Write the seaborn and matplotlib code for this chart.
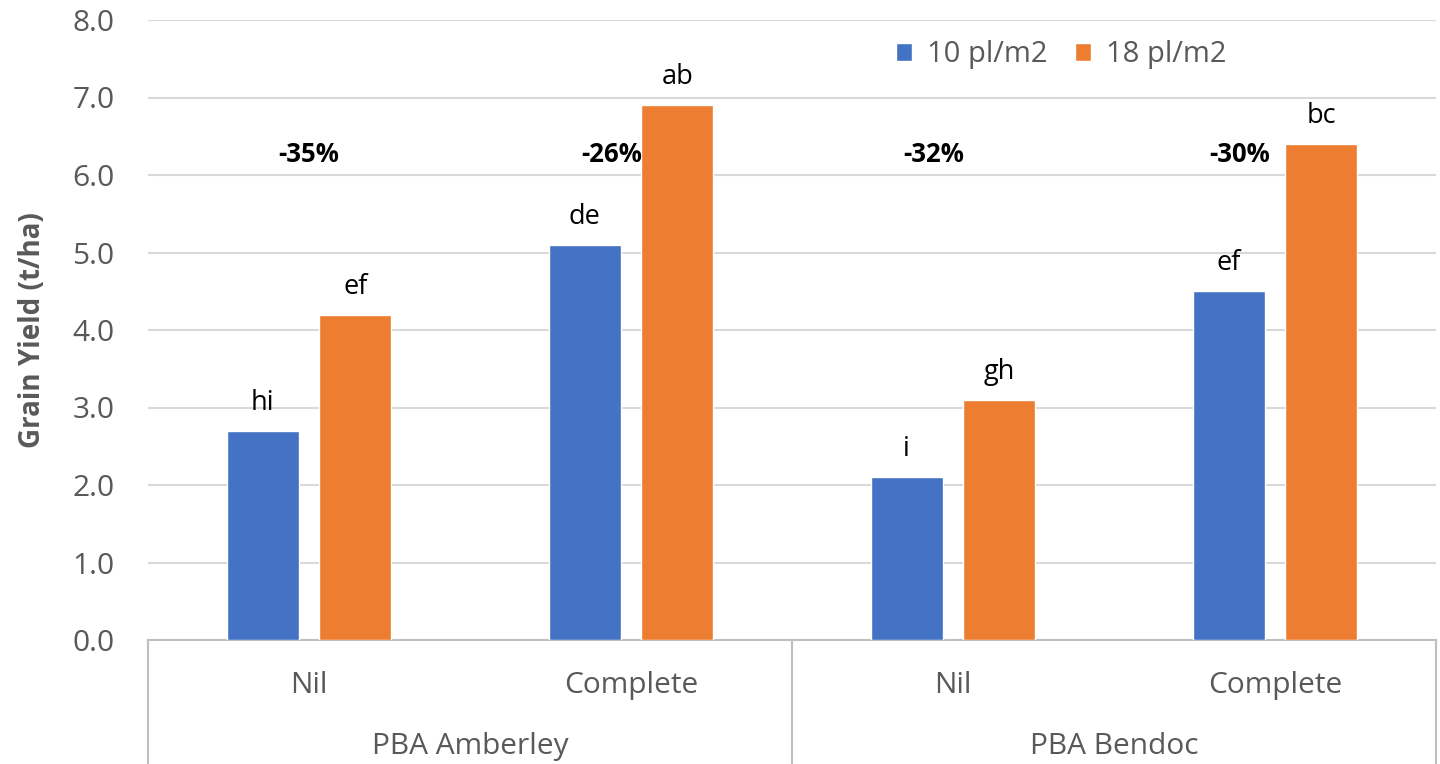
import matplotlib.pyplot as plt
import numpy as np
import pandas as pd
import seaborn as sns

# ---- data ----
cultivars = ["PBA Amberley", "PBA Amberley", "PBA Bendoc", "PBA Bendoc"]
treatments = ["Nil", "Complete", "Nil", "Complete"]
densities = ["10 pl/m2", "18 pl/m2"]
yield_10 = [2.7, 5.1, 2.1, 4.5]
yield_18 = [4.2, 6.9, 3.1, 6.4]
letters_10 = ["hi", "de", "i", "ef"]
letters_18 = ["ef", "ab", "gh", "bc"]
pct_labels = ["-35%", "-26%", "-32%", "-30%"]
pct_shift = [0.0, -0.06, -0.06, -0.11]   # label nudges as in the original
pct_y = 6.26
yticks = np.arange(0, 8.01, 1.0)

groups = [f"{c}|{t}" for c, t in zip(cultivars, treatments)]
df = pd.DataFrame({
    "group": groups * 2,
    "density": [densities[0]] * 4 + [densities[1]] * 4,
    "yield": yield_10 + yield_18,
})

BLUE = "#4472C4"
ORANGE = "#ED7D31"
GRID = "#D9D9D9"
TXT = "#595959"

sns.set_theme(style="white")
plt.rcParams["font.family"] = ["Open Sans", "DejaVu Sans"]

fig = plt.figure(figsize=(14.4, 7.64), dpi=100)
ax = fig.add_axes([148 / 1440, 1 - 640 / 764, 1288 / 1440, 620 / 764])

sns.barplot(data=df, x="group", y="yield", hue="density", order=groups,
            hue_order=densities, palette=[BLUE, ORANGE], width=0.575, gap=0.22,
            errorbar=None, saturation=1, ax=ax, zorder=3)

ax.set_ylim(0, 8)
ax.set_xlim(-0.5, 3.5)
ax.set_yticks(yticks)
ax.set_yticklabels([f"{v:.1f}" for v in yticks], color=TXT, fontsize=21.5)
ax.yaxis.grid(True, color=GRID, linewidth=1.5, zorder=0)
ax.set_axisbelow(True)
ax.tick_params(axis="y", length=0, pad=24)
ax.tick_params(axis="x", length=0, pad=22)
ax.set_xticks(range(4))
ax.set_xticklabels(treatments, color=TXT, fontsize=21.5)
ax.set_xlabel("")
ax.set_ylabel("Grain Yield (t/ha)", fontsize=20, fontweight="bold",
              color=TXT, labelpad=18)
for s in ["top", "right", "left"]:
    ax.spines[s].set_visible(False)
ax.spines["bottom"].set_color("#BFBFBF")
ax.spines["bottom"].set_linewidth(1.5)

# letter labels above each bar
for bars, labs in zip(ax.containers, [letters_10, letters_18]):
    for rect, lab in zip(bars, labs):
        ax.text(rect.get_x() + rect.get_width() / 2, rect.get_height() + 0.27, lab,
                ha="center", va="baseline", fontsize=19.5, color="black")

# percent difference labels
for i, (lab, dx) in enumerate(zip(pct_labels, pct_shift)):
    ax.text(i + dx, pct_y, lab, ha="center", va="center", fontsize=18.5,
            fontweight="bold", color="black")

# category table below the axis
trans = ax.get_xaxis_transform()
for xv in [-0.5, 1.5, 3.5]:
    ax.plot([xv, xv], [0, -0.25], transform=trans, color="#BFBFBF",
            linewidth=1.5, clip_on=False)
for xc, name in [(0.5, "PBA Amberley"), (2.5, "PBA Bendoc")]:
    ax.text(xc, -0.172, name, transform=trans, ha="center", va="center",
            fontsize=21.5, color=TXT)

leg = ax.legend(loc="center", bbox_to_anchor=(0.709, 0.944), ncol=2, frameon=False,
                fontsize=21, handlelength=0.55, handleheight=0.55, handletextpad=0.5,
                columnspacing=0.95)
for t in leg.get_texts():
    t.set_color(TXT)

fig.savefig("out.png", dpi=100)
